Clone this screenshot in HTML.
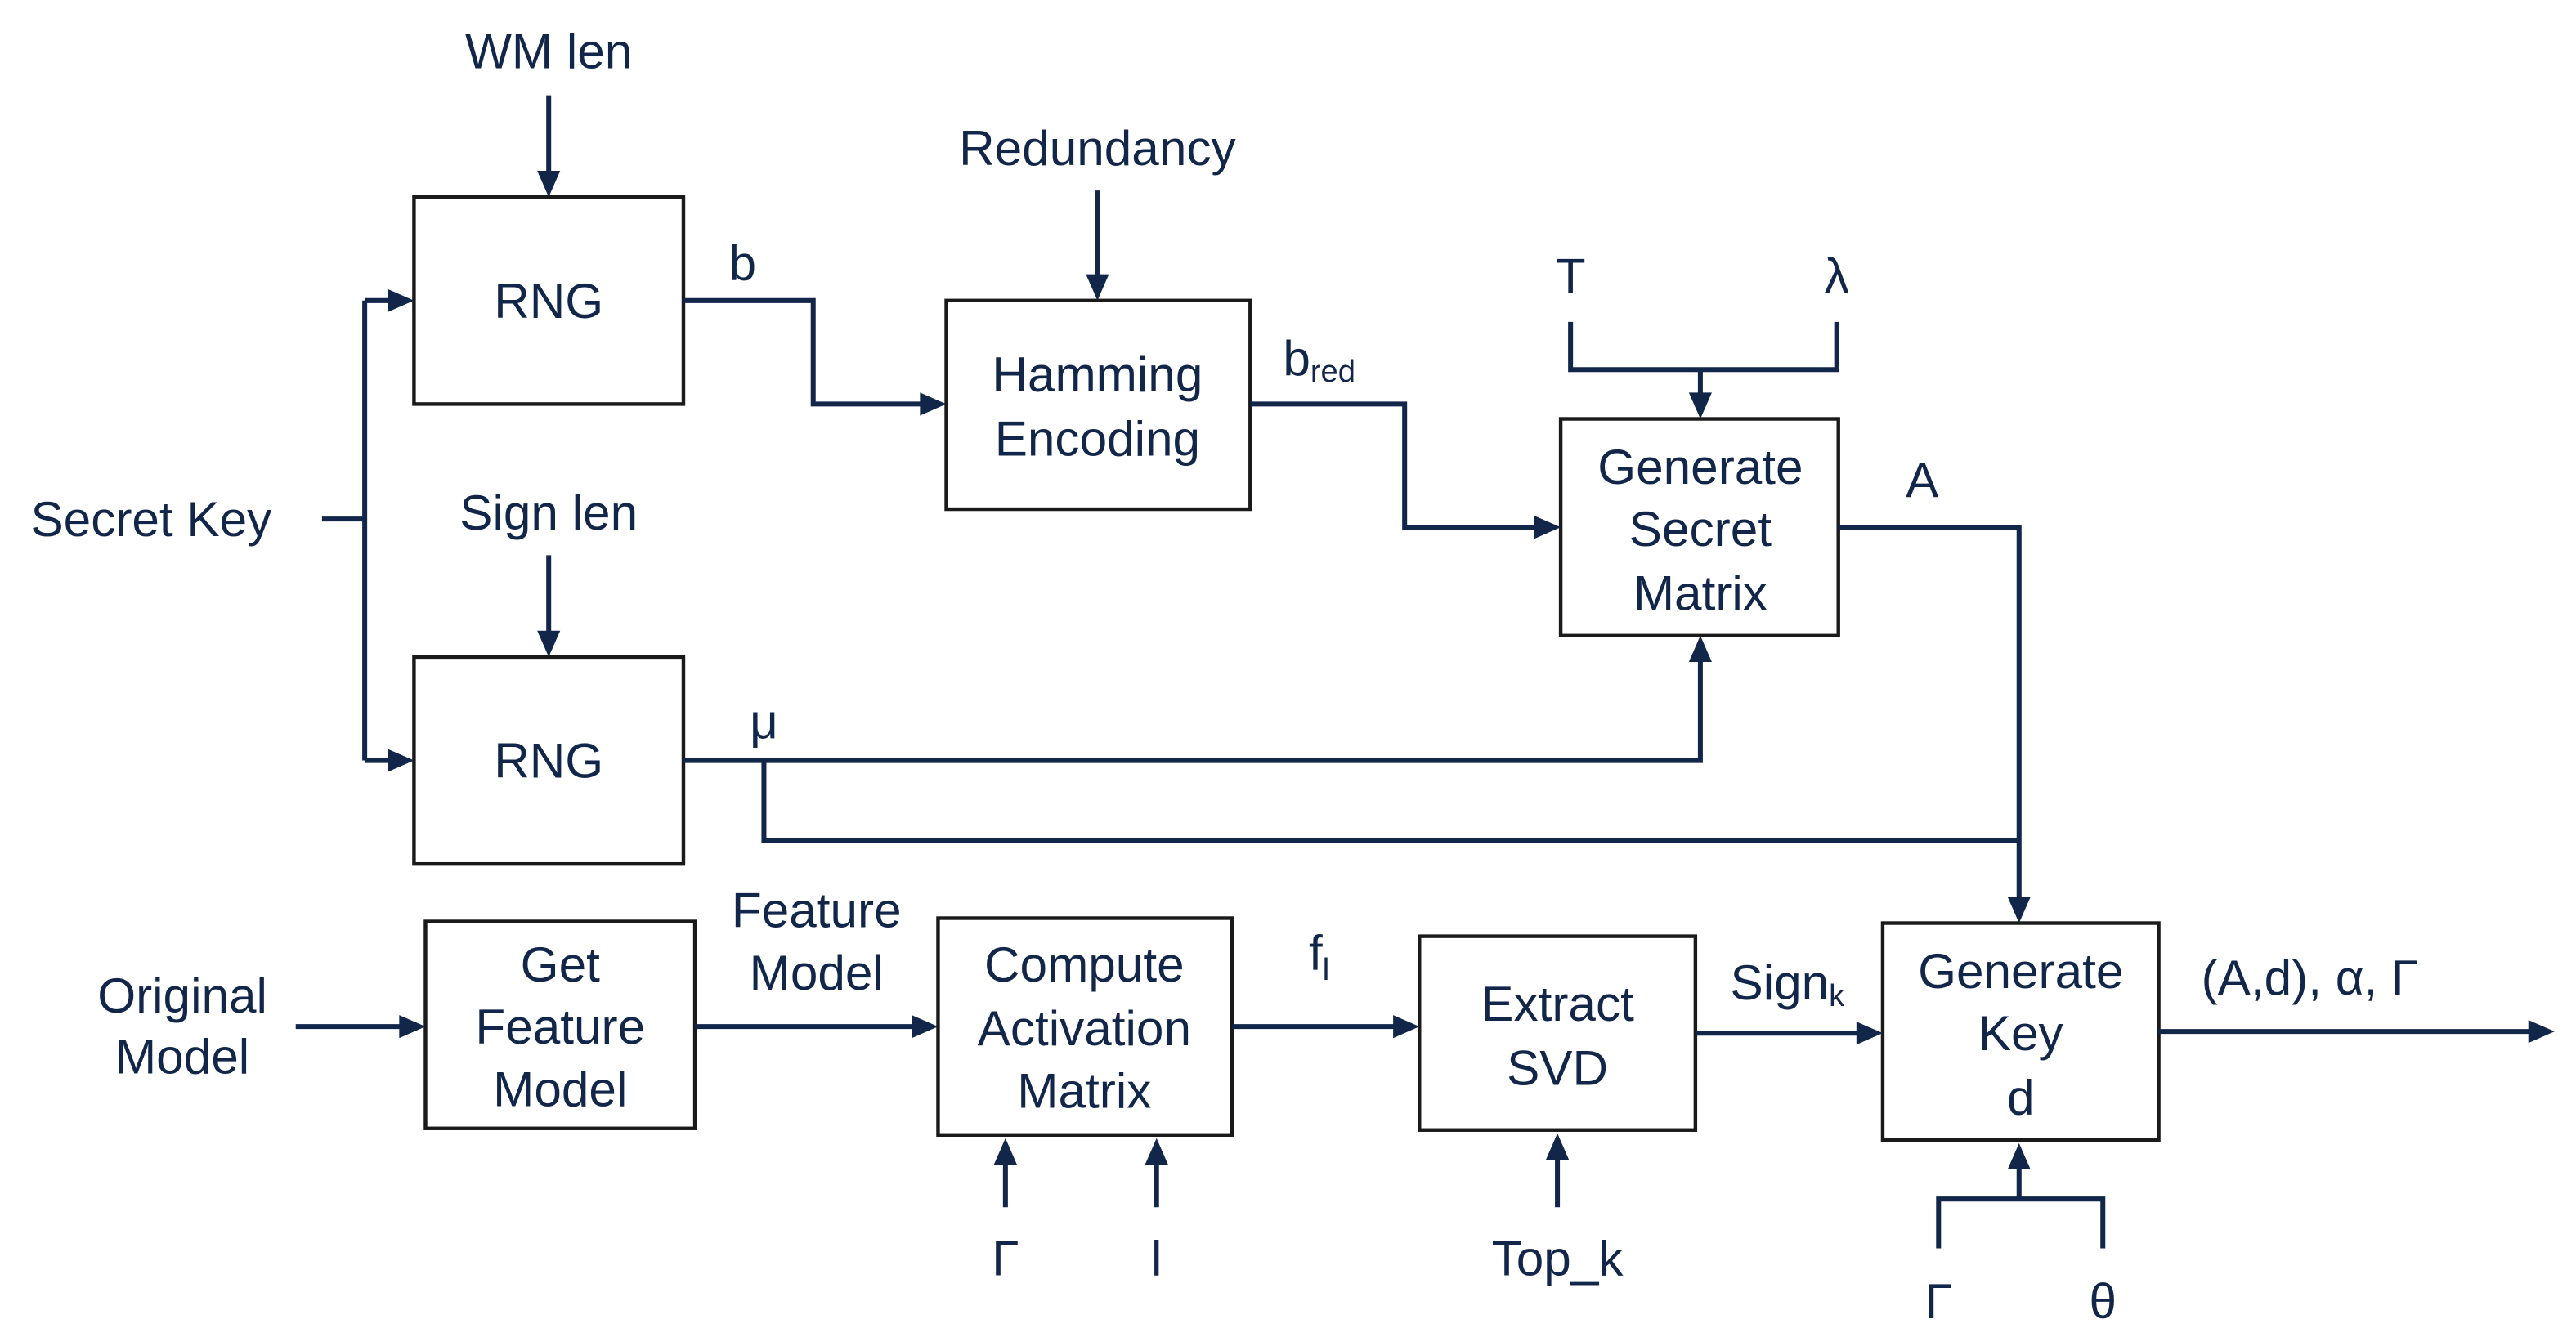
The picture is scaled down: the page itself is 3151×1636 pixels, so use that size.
<!DOCTYPE html>
<html><head><meta charset="utf-8"><style>
html,body{margin:0;padding:0;background:#fff;}
svg{display:block;}
text{font-family:"Liberation Sans",Arial,sans-serif;fill:#12264a;font-size:30px;dominant-baseline:central;text-anchor:middle;}
.b{fill:none;stroke:#1a1a1a;stroke-width:2.2;}
.l{fill:none;stroke:#12264a;stroke-width:3;}
</style></head><body>
<svg width="3151" height="1636" viewBox="0 0 1568 814" preserveAspectRatio="none" xmlns="http://www.w3.org/2000/svg">
<rect class="b" x="252" y="120" width="164" height="126"/>
<rect class="b" x="576" y="183" width="185" height="127"/>
<rect class="b" x="950" y="255" width="169" height="132"/>
<rect class="b" x="252" y="400" width="164" height="126"/>
<rect class="b" x="259" y="561" width="164" height="126"/>
<rect class="b" x="571" y="559" width="179" height="132"/>
<rect class="b" x="864" y="570" width="168" height="118"/>
<rect class="b" x="1146" y="562" width="168" height="132"/>
<g class="l">
<path d="M196,316 H222 M222,183 V463"/>
<path d="M416,183 H495 V246 H565"/>
<path d="M761,246 H855 V321 H939"/>
<path d="M956,196 V225 H1118 V196 M1035,225 V244"/>
<path d="M1119,321 H1229 V550"/>
<path d="M416,463 H1035 V398"/>
<path d="M465,463 V512 H1229"/>
<path d="M1180,760 V730 H1280 V760 M1229,730 V707"/>
<path d="M334,58 V109 M668,116 V172 M334,338 V389 M222,183 H241 M222,463 H241"/>
<path d="M180,625 H248 M423,625 H560 M750,625 H853 M1032,629 H1135 M1314,628 H1544"/>
<path d="M612,735 V704 M704,735 V704 M948,735 V701"/>
</g>
<g fill="#12264a">
<path d="M327,104 L341,104 L334,120 z"/>
<path d="M661,167 L675,167 L668,183 z"/>
<path d="M327,384 L341,384 L334,400 z"/>
<path d="M1028,239 L1042,239 L1035,255 z"/>
<path d="M1222,546 L1236,546 L1229,562 z"/>
<path d="M236,176 L236,190 L252,183 z"/>
<path d="M236,456 L236,470 L252,463 z"/>
<path d="M560,239 L560,253 L576,246 z"/>
<path d="M934,314 L934,328 L950,321 z"/>
<path d="M1028,403 L1042,403 L1035,387 z"/>
<path d="M243,618 L243,632 L259,625 z"/>
<path d="M555,618 L555,632 L571,625 z"/>
<path d="M848,618 L848,632 L864,625 z"/>
<path d="M1130,622 L1130,636 L1146,629 z"/>
<path d="M1539,621 L1539,635 L1555,628 z"/>
<path d="M605,709 L619,709 L612,693 z"/>
<path d="M697,709 L711,709 L704,693 z"/>
<path d="M941,706 L955,706 L948,690 z"/>
<path d="M1222,712 L1236,712 L1229,696 z"/>
</g>
<text x="334" y="31">WM len</text>
<text x="334" y="183">RNG</text>
<text x="452" y="160">b</text>
<text x="668" y="90">Redundancy</text>
<text x="668" y="228">Hamming</text>
<text x="668" y="267">Encoding</text>
<text x="803" y="218">b<tspan font-size="19" dy="8">red</tspan></text>
<text x="956" y="168">T</text>
<text x="1118" y="168">λ</text>
<text x="1035" y="284">Generate</text>
<text x="1035" y="322">Secret</text>
<text x="1035" y="361">Matrix</text>
<text x="1170" y="292">A</text>
<text x="92" y="316">Secret Key</text>
<text x="334" y="312">Sign len</text>
<text x="334" y="463">RNG</text>
<text x="465" y="439">μ</text>
<text x="111" y="606">Original</text>
<text x="111" y="643">Model</text>
<text x="341" y="587">Get</text>
<text x="341" y="625">Feature</text>
<text x="341" y="663">Model</text>
<text x="497" y="554">Feature</text>
<text x="497" y="592">Model</text>
<text x="660" y="587">Compute</text>
<text x="660" y="626">Activation</text>
<text x="660" y="664">Matrix</text>
<text x="612" y="766">Γ</text>
<text x="704" y="766">l</text>
<text x="803" y="580">f<tspan font-size="19" dy="10">l</tspan></text>
<text x="948" y="611">Extract</text>
<text x="948" y="650">SVD</text>
<text x="948" y="766">Top_k</text>
<text x="1088" y="598">Sign<tspan font-size="19" dy="8">k</tspan></text>
<text x="1230" y="591">Generate</text>
<text x="1230" y="629">Key</text>
<text x="1230" y="668">d</text>
<text x="1180" y="792">Γ</text>
<text x="1280" y="792">θ</text>
<text x="1406" y="595">(A,d), α, Γ</text>
</svg>
</body></html>
